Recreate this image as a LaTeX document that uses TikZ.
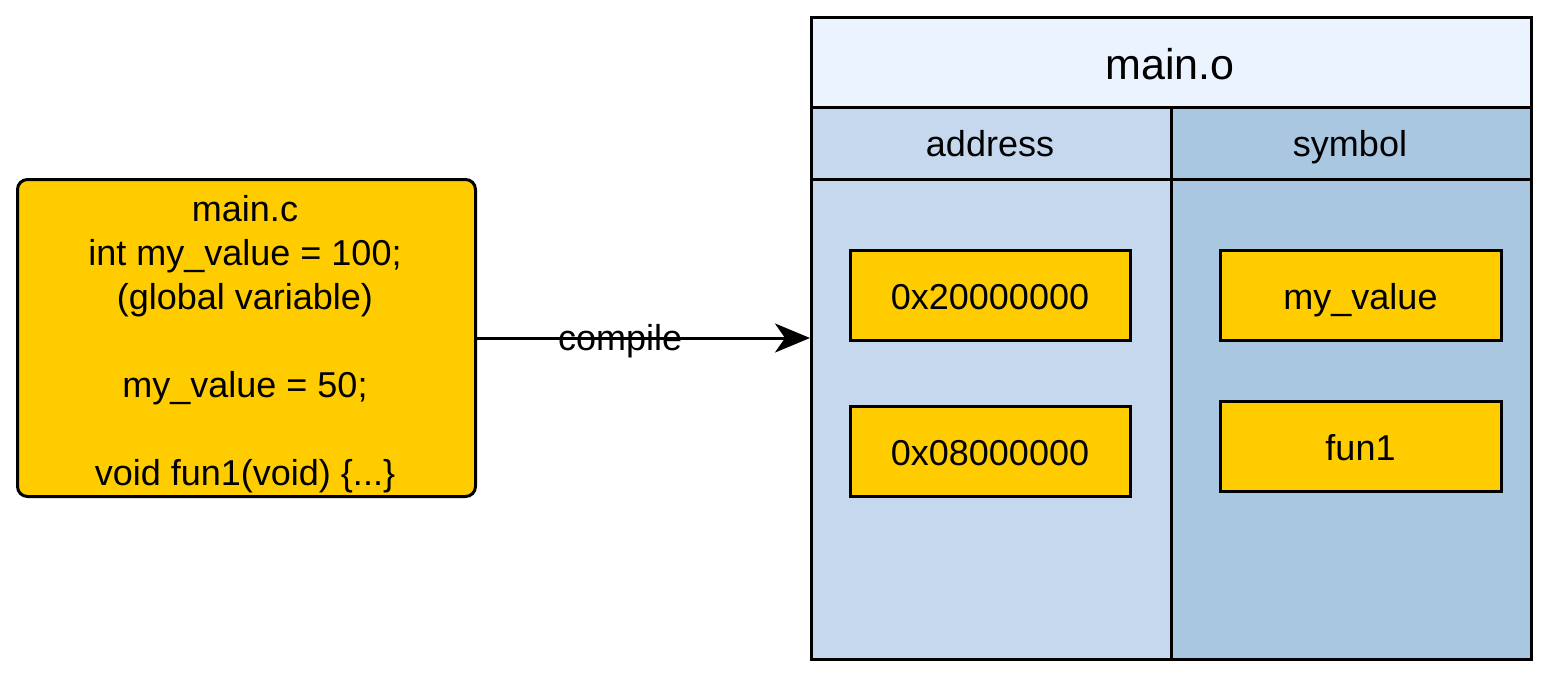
\documentclass[tikz,border=0pt]{standalone}
\usepackage{fontspec}
\setmainfont{Liberation Sans}
\usetikzlibrary{arrows.meta}
\definecolor{yel}{HTML}{FFCC00}
\definecolor{hdr}{HTML}{EBF3FE}
\definecolor{colA}{HTML}{C5D8ED}
\definecolor{colB}{HTML}{AAC7E1}
\tikzset{
  box/.style={draw=black, line width=3pt, rectangle, inner sep=0pt, anchor=north west},
  item/.style={draw=black, line width=3pt, fill=yel, rectangle, inner sep=0pt,
    minimum width=280pt, minimum height=90pt, text height=32pt, text depth=4pt,
    font=\fontsize{36}{44}\selectfont},
  txt/.style={inner sep=0pt, font=\fontsize{36}{44}\selectfont},
  lbl/.style={txt, text height=32pt, text depth=4pt},
  flow/.style={line width=3pt, -{Stealth[length=35pt, width=29pt, inset=10pt]}}
}
\begin{document}
\begin{tikzpicture}[x=1pt,y=-1pt]
\useasboundingbox (0,0) rectangle (1548,675);
% main.c
\node[box, fill=yel, rounded corners=10pt, minimum width=458pt, minimum height=317pt] (mainc) at (16,178) {};
\node[txt, align=center] (maincText) at (245,344) {main.c\\int my\_value = 100;\\(global variable)\\[44pt]my\_value = 50;\\[44pt]void fun1(void) \{...\}};
% main.o
\node[box, fill=hdr, minimum width=720pt, minimum height=90pt] (hdr) at (810,16) {};
\node[txt, font=\fontsize{43}{52}\selectfont] (hdrText) at (1170,64) {main.o};
\node[box, fill=colA, minimum width=360pt, minimum height=72pt] (colAh) at (810,106) {};
\node[box, fill=colB, minimum width=360pt, minimum height=72pt] (colBh) at (1170,106) {};
\node[lbl] (colAhText) at (990,142) {address};
\node[lbl] (colBhText) at (1350,142) {symbol};
\node[box, fill=colA, minimum width=360pt, minimum height=480pt] (colAb) at (810,178) {};
\node[box, fill=colB, minimum width=360pt, minimum height=480pt] (colBb) at (1170,178) {};
\node[box, minimum width=720pt, minimum height=642pt] (mainobox) at (810,16) {};
% items
\node[item] (a1) at (990,295) {0x20000000};
\node[item] (a2) at (990,451) {0x08000000};
\node[item, minimum width=281pt] (s1) at (1360.5,295) {my\_value};
\node[item, minimum width=281pt] (s2) at (1360.5,446) {fun1};
% arrow
\draw[flow] (mainc.east) -- (mainc.east -| mainobox.west)
  node[lbl, pos=0.43, yshift=2pt] (compileLbl) {compile};
\end{tikzpicture}
\end{document}
